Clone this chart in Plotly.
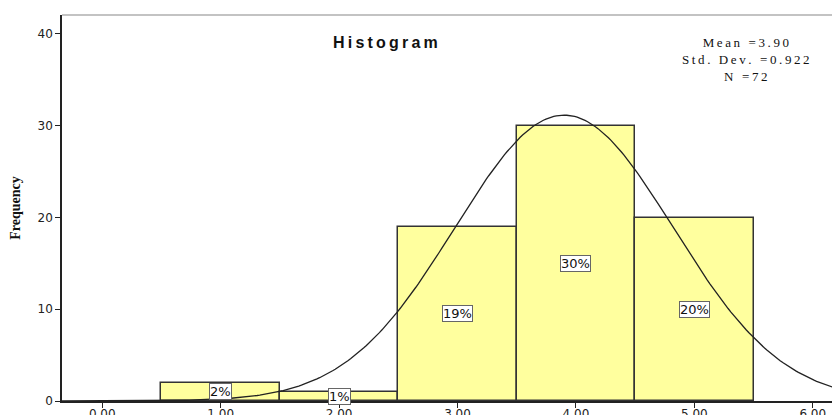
import numpy as np
import plotly.graph_objects as go

# histogram bins (centres) and counts
bin_centers = [1, 2, 3, 4, 5]
counts = [2, 1, 19, 30, 20]
pct_labels = ["2%", "1%", "19%", "30%", "20%"]

mean = 3.90
std_dev = 0.922
n_obs = 72
bin_width = 1.0

x_ticks = [0, 1, 2, 3, 4, 5, 6]
y_ticks = [0, 10, 20, 30, 40]

X_RANGE = [-0.34, 6.23]
Y_RANGE = [0, 42.07]

# page is drawn with an 8px body margin; plot area sits at x 62..840, y 15..401
PLOT_L, PLOT_R, PLOT_T, PLOT_B = 62, 840, 15, 401


def to_paper(px, py):
    return (px - PLOT_L) / (PLOT_R - PLOT_L), (PLOT_B - py) / (PLOT_B - PLOT_T)


def spaced(s):
    # widen text a little, the source chart has stretched lettering
    return "\u2009".join(s)


fig = go.Figure()

fig.add_trace(go.Bar(
    x=bin_centers,
    y=counts,
    width=bin_width,
    marker={"color": "#FFFF9E", "line": {"color": "#333333", "width": 1.5}},
    showlegend=False,
))

# fitted normal curve from the reported mean / sd / N
xs = np.linspace(X_RANGE[0], X_RANGE[1], 300)
ys = n_obs * bin_width / (std_dev * np.sqrt(2 * np.pi)) * np.exp(-0.5 * ((xs - mean) / std_dev) ** 2)
fig.add_trace(go.Scatter(
    x=xs, y=ys, mode="lines",
    line={"color": "#222222", "width": 1.3},
    showlegend=False,
))

for xc, c, lab in zip(bin_centers, counts, pct_labels):
    fig.add_annotation(
        x=xc, y=c / 2, text=lab, showarrow=False,
        font={"family": "DejaVu Sans", "size": 13, "color": "#111"},
        bgcolor="white", bordercolor="#666", borderwidth=1, borderpad=0,
    )

tx, ty = to_paper(385, 42)
fig.add_annotation(
    x=tx, y=ty, xref="paper", yref="paper", xanchor="center", yanchor="middle",
    text="<b>" + spaced("Histogram") + "</b>",
    showarrow=False, font={"family": "Liberation Sans", "size": 16, "color": "#111"},
)
# stats box
stats_lines = [f"Mean ={mean:.2f}", f"Std. Dev. ={std_dev:.3f}", f"N ={n_obs}"]
sx, sy = to_paper(746, 60)
fig.add_annotation(
    x=sx, y=sy, xref="paper", yref="paper", xanchor="center", yanchor="middle",
    text="<br>".join(spaced(s) for s in stats_lines), showarrow=False, align="center",
    font={"family": "Liberation Serif", "size": 13, "color": "#111"},
)

# grey top border of the frame
fig.add_shape(type="line", xref="paper", yref="paper", x0=0, x1=1, y0=1, y1=1,
              line={"color": "#888888", "width": 1.2})

fig.update_layout(
    width=832, height=407,
    margin={"l": PLOT_L - 8, "r": 0, "t": PLOT_T - 8, "b": 415 - PLOT_B},
    paper_bgcolor="white", plot_bgcolor="white",
    bargap=0,
)
fig.update_xaxes(
    range=X_RANGE, tickvals=x_ticks, tickformat=".2f", automargin=False,
    showgrid=False, zeroline=False,
    showline=True, linecolor="#222", linewidth=1.5,
    ticks="outside", ticklen=5, tickcolor="#222", ticklabelstandoff=-4,
    tickfont={"family": "DejaVu Sans", "size": 12, "color": "#222"},
)
fig.update_yaxes(
    range=Y_RANGE, tickvals=y_ticks, automargin=False,
    showgrid=False, zeroline=False,
    showline=True, linecolor="#222", linewidth=1.5,
    ticks="outside", ticklen=5, tickcolor="#222",
    tickfont={"family": "DejaVu Sans", "size": 12, "color": "#222"},
    title={"text": "<b>Frequency</b>", "standoff": 14,
           "font": {"family": "Liberation Serif", "size": 14, "color": "#111"}},
)

fig.write_html("out.html")
